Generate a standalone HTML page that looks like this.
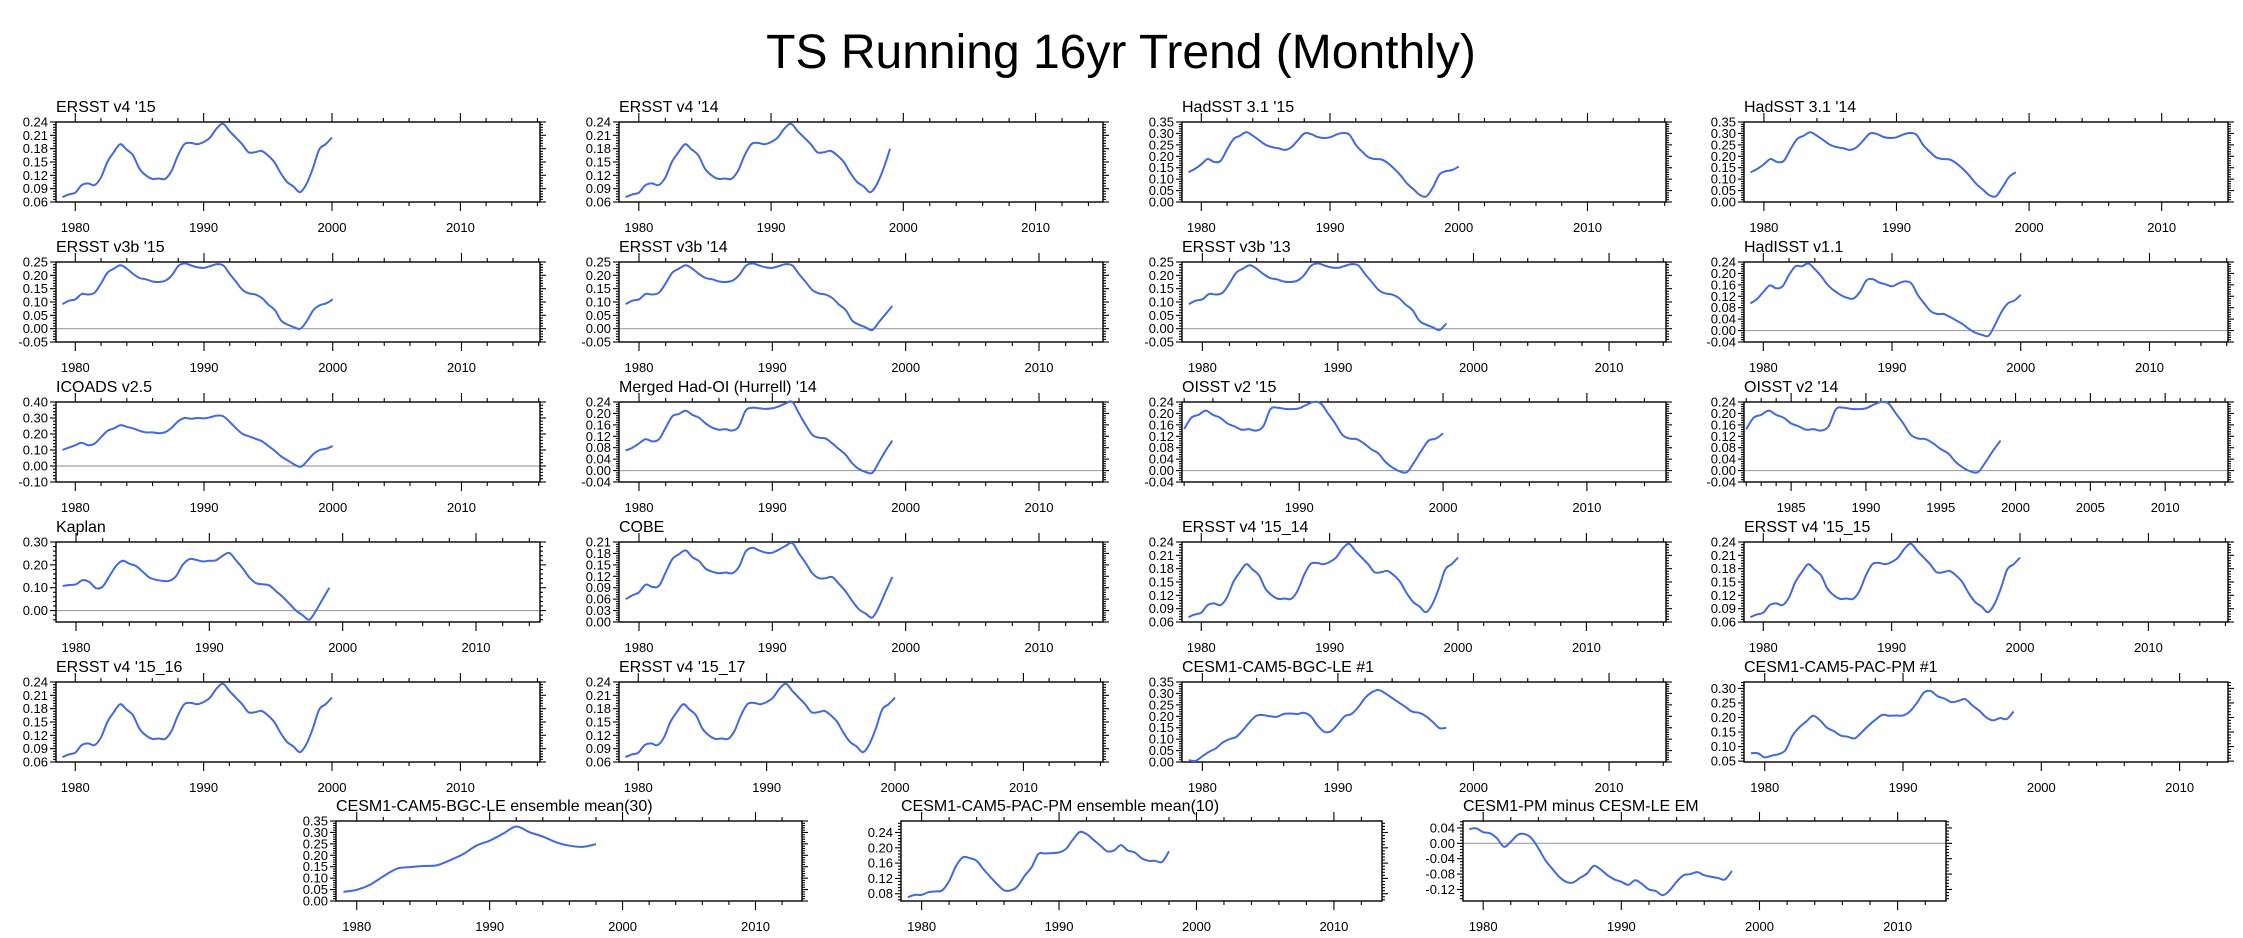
<!DOCTYPE html>
<html><head><meta charset="utf-8">
<style>
html,body{margin:0;padding:0;background:#fff;}
svg{display:block;font-family:"Liberation Sans",Arial,sans-serif;}
</style></head>
<body>
<svg id="fig" width="2243" height="938" viewBox="0 0 2243 938" xmlns="http://www.w3.org/2000/svg">
<text x="1121" y="68" text-anchor="middle" font-size="48" fill="#000">TS Running 16yr Trend (Monthly)</text>
</svg>
<script>
// ---- data (half-year steps unless noted) ----
const ersstV4_15 = [0.071,0.077,0.081,0.098,0.102,0.098,0.115,0.150,0.172,0.190, 0.178,0.165,0.135,0.120,0.112,0.113,0.112,0.130,0.165,0.190, 0.193,0.190,0.195,0.205,0.225,0.236,0.220,0.205,0.190,0.172, 0.172,0.175,0.165,0.150,0.125,0.105,0.095,0.082,0.100,0.135, 0.178,0.190,0.205];
const ersstV4_14 = [0.071,0.077,0.081,0.098,0.102,0.098,0.115,0.150,0.172,0.190, 0.178,0.165,0.135,0.120,0.112,0.113,0.112,0.130,0.165,0.190, 0.193,0.190,0.195,0.205,0.225,0.236,0.220,0.205,0.190,0.172, 0.172,0.175,0.165,0.150,0.125,0.105,0.095,0.082,0.100,0.135, 0.180];
const hadsst15 = [0.130,0.145,0.165,0.188,0.175,0.180,0.230,0.275,0.290,0.305, 0.290,0.270,0.250,0.240,0.235,0.228,0.240,0.270,0.300,0.298, 0.285,0.280,0.283,0.295,0.302,0.295,0.250,0.220,0.195,0.188, 0.186,0.170,0.145,0.115,0.080,0.055,0.030,0.025,0.065,0.120, 0.135,0.140,0.155];
const hadsst14 = [0.130,0.145,0.165,0.188,0.175,0.180,0.230,0.275,0.290,0.305, 0.290,0.270,0.250,0.240,0.235,0.228,0.240,0.270,0.300,0.298, 0.285,0.280,0.283,0.295,0.302,0.295,0.250,0.220,0.195,0.188, 0.186,0.170,0.145,0.115,0.080,0.055,0.030,0.025,0.065,0.110, 0.130];
const ersstV3b15 = [0.092,0.105,0.110,0.130,0.128,0.135,0.170,0.210,0.225,0.238, 0.225,0.205,0.190,0.185,0.177,0.175,0.180,0.200,0.235,0.245, 0.237,0.230,0.228,0.235,0.242,0.237,0.205,0.175,0.145,0.132, 0.128,0.115,0.090,0.070,0.030,0.015,0.005,0.000,0.030,0.070, 0.088,0.095,0.110];
const ersstV3b14 = [0.092,0.105,0.110,0.130,0.128,0.135,0.170,0.210,0.225,0.238, 0.225,0.205,0.190,0.185,0.177,0.175,0.180,0.200,0.235,0.245, 0.237,0.230,0.228,0.235,0.242,0.237,0.205,0.175,0.145,0.132, 0.128,0.115,0.090,0.070,0.030,0.015,0.005,-0.005,0.025,0.055, 0.085];
const ersstV3b13 = [0.092,0.105,0.110,0.130,0.128,0.135,0.170,0.210,0.225,0.238, 0.225,0.205,0.190,0.185,0.177,0.175,0.180,0.200,0.235,0.245, 0.237,0.230,0.228,0.235,0.242,0.237,0.205,0.175,0.145,0.132, 0.128,0.115,0.090,0.070,0.030,0.015,0.005,-0.005,0.020];
const hadisst = [0.095,0.110,0.135,0.158,0.148,0.155,0.195,0.225,0.225,0.235, 0.215,0.190,0.160,0.140,0.125,0.115,0.112,0.135,0.175,0.180, 0.168,0.162,0.155,0.165,0.172,0.165,0.125,0.095,0.068,0.058, 0.058,0.048,0.035,0.022,0.005,-0.008,-0.015,-0.018,0.020,0.065, 0.095,0.105,0.125];
const icoads = [0.100,0.115,0.130,0.145,0.130,0.140,0.180,0.220,0.235,0.255, 0.245,0.235,0.220,0.210,0.210,0.205,0.212,0.240,0.280,0.300, 0.295,0.300,0.298,0.305,0.315,0.310,0.275,0.235,0.200,0.185, 0.170,0.155,0.125,0.095,0.060,0.035,0.010,-0.005,0.030,0.075, 0.100,0.108,0.125];
const mergedHadOI = [0.070,0.080,0.095,0.110,0.102,0.110,0.150,0.190,0.198,0.210, 0.195,0.185,0.165,0.150,0.143,0.145,0.140,0.155,0.210,0.220, 0.218,0.216,0.218,0.225,0.235,0.240,0.200,0.160,0.125,0.115, 0.112,0.095,0.075,0.055,0.025,0.005,-0.005,-0.008,0.030,0.070, 0.105];
const oisst15 = [0.145,0.185,0.195,0.210,0.195,0.185,0.165,0.155,0.143,0.145, 0.140,0.155,0.215,0.220,0.216,0.215,0.218,0.230,0.240,0.235, 0.200,0.165,0.125,0.112,0.110,0.095,0.075,0.060,0.030,0.010, -0.003,-0.005,0.030,0.070,0.105,0.112,0.130];
const oisst14 = [0.145,0.185,0.195,0.210,0.195,0.185,0.165,0.155,0.143,0.145, 0.140,0.155,0.215,0.220,0.216,0.215,0.218,0.230,0.240,0.235, 0.200,0.165,0.125,0.112,0.110,0.095,0.075,0.060,0.030,0.010, -0.003,-0.005,0.030,0.070,0.105];
const kaplan = [0.108,0.112,0.115,0.133,0.125,0.098,0.105,0.150,0.195,0.218, 0.205,0.195,0.170,0.145,0.135,0.130,0.130,0.150,0.200,0.225, 0.222,0.215,0.218,0.220,0.240,0.252,0.220,0.185,0.145,0.120, 0.115,0.110,0.085,0.060,0.030,0.000,-0.020,-0.040,0.000,0.050, 0.100];
const cobe = [0.060,0.070,0.078,0.098,0.092,0.095,0.130,0.165,0.178,0.188, 0.170,0.160,0.140,0.132,0.128,0.130,0.128,0.145,0.185,0.195, 0.188,0.182,0.182,0.190,0.200,0.207,0.180,0.155,0.128,0.115, 0.115,0.118,0.100,0.080,0.055,0.033,0.022,0.012,0.040,0.080, 0.118];
const ersstV4_15_14 = ersstV4_15.slice();
const ersstV4_15_15 = ersstV4_15.slice();
const ersstV4_15_16 = ersstV4_15.slice();
const ersstV4_15_17 = ersstV4_15.slice();
const cesmBgc1 = [0.008,0.005,0.025,0.045,0.060,0.085,0.100,0.110,0.140,0.175, 0.203,0.205,0.200,0.198,0.210,0.212,0.210,0.215,0.200,0.160, 0.132,0.135,0.165,0.200,0.210,0.240,0.280,0.305,0.315,0.300, 0.280,0.260,0.240,0.220,0.215,0.200,0.175,0.148,0.150];
const cesmPac1 = [0.077,0.077,0.063,0.069,0.074,0.088,0.137,0.166,0.186,0.206, 0.190,0.165,0.153,0.138,0.134,0.128,0.149,0.172,0.192,0.209, 0.206,0.207,0.207,0.221,0.250,0.285,0.291,0.273,0.265,0.253, 0.257,0.263,0.242,0.224,0.201,0.190,0.198,0.195,0.221];
// yearly steps
const bgcEnsMean = [0.040,0.049,0.071,0.108,0.141,0.148,0.153,0.156,0.178,0.205,0.242,0.264,0.294,0.326,0.301,0.282,0.257,0.242,0.237,0.249];
const pacEnsMean = [0.071,0.077,0.077,0.084,0.086,0.089,0.113,0.152,0.175,0.173, 0.166,0.144,0.124,0.105,0.089,0.089,0.100,0.127,0.149,0.184, 0.185,0.186,0.188,0.197,0.221,0.241,0.236,0.221,0.206,0.191, 0.193,0.207,0.193,0.188,0.173,0.166,0.166,0.163,0.191];
const pmMinusLe = [0.037,0.039,0.029,0.026,0.013,-0.009,0.004,0.022,0.024,0.013, -0.013,-0.044,-0.066,-0.087,-0.100,-0.102,-0.090,-0.079,-0.059,-0.068, -0.083,-0.094,-0.100,-0.108,-0.096,-0.106,-0.120,-0.124,-0.135,-0.122, -0.100,-0.083,-0.080,-0.075,-0.083,-0.087,-0.090,-0.094,-0.072];

const panelTitles = ["ERSST v4 '15","ERSST v4 '14","HadSST 3.1 '15","HadSST 3.1 '14",
 "ERSST v3b '15","ERSST v3b '14","ERSST v3b '13","HadISST v1.1",
 "ICOADS v2.5","Merged Had-OI (Hurrell) '14","OISST v2 '15","OISST v2 '14",
 "Kaplan","COBE","ERSST v4 '15_14","ERSST v4 '15_15",
 "ERSST v4 '15_16","ERSST v4 '15_17","CESM1-CAM5-BGC-LE #1","CESM1-CAM5-PAC-PM #1",
 "CESM1-CAM5-BGC-LE ensemble mean(30)","CESM1-CAM5-PAC-PM ensemble mean(10)","CESM1-PM minus CESM-LE EM"];
const panelSeries = [ersstV4_15,ersstV4_14,hadsst15,hadsst14, ersstV3b15,ersstV3b14,ersstV3b13,hadisst,
 icoads,mergedHadOI,oisst15,oisst14, kaplan,cobe,ersstV4_15_14,ersstV4_15_15,
 ersstV4_15_16,ersstV4_15_17,cesmBgc1,cesmPac1, bgcEnsMean,pacEnsMean,pmMinusLe];
const seriesStart = [1979,1979,1979,1979, 1979,1979,1979,1979, 1979,1979,1982,1982, 1979,1979,1979,1979, 1979,1979,1979,1979, 1979,1979,1979];
const seriesStep = [0.5,0.5,0.5,0.5, 0.5,0.5,0.5,0.5, 0.5,0.5,0.5,0.5, 0.5,0.5,0.5,0.5, 0.5,0.5,0.5,0.5, 1,0.5,0.5];
const yMin = [0.06,0.06,0,0, -0.05,-0.05,-0.05,-0.04, -0.10,-0.04,-0.04,-0.04, -0.05,0,0.06,0.06, 0.06,0.06,0,0.047, 0,0.061,-0.150];
const yMax = [0.24,0.24,0.35,0.35, 0.25,0.25,0.25,0.24, 0.40,0.24,0.24,0.24, 0.30,0.21,0.24,0.24, 0.24,0.24,0.35,0.322, 0.35,0.27,0.058];
const yTickStep = [0.03,0.03,0.05,0.05, 0.05,0.05,0.05,0.04, 0.10,0.04,0.04,0.04, 0.10,0.03,0.03,0.03, 0.03,0.03,0.05,0.05, 0.05,0.04,0.04];
const yTickFirst = [0.06,0.06,0,0, -0.05,-0.05,-0.05,-0.04, -0.10,-0.04,-0.04,-0.04, 0,0,0.06,0.06, 0.06,0.06,0,0.05, 0,0.08,-0.12];
const xMin = [1978.5,1978.5,1978.5,1978.5, 1978.5,1978.5,1978.5,1978.5, 1978.5,1978.5,1981.85,1981.85, 1978.5,1978.5,1978.5,1978.5, 1978.5,1978.5,1978.5,1978.5, 1978.44,1978.5,1978.54];
const xMax = [2016.2,2015.1,2016.1,2015.0, 2016.1,2014.8,2014.2,2016.1, 2016.1,2014.8,2015.5,2014.2, 2014.8,2014.8,2016.2,2016.2, 2016.2,2016.2,2014.2,2013.5, 2013.5,2013.5,2013.5];
const xMajorStep = [10,10,10,10, 10,10,10,10, 10,10,10,5, 10,10,10,10, 10,10,10,10, 10,10,10];

// ---- layout ----
const colLeft = [56,619,1182,1744];
const rowTop = [122,262,402,542,682];
const PW = 484, PH = 80;
const bottomLeft = [336,901,1463], bottomWidth = [466,481,483], bottomTop = 821;

const NS = "http://www.w3.org/2000/svg";
const svg = document.getElementById('fig');
function mk(tag, attrs, parent){
  const e = document.createElementNS(NS, tag);
  for (const k in attrs) e.setAttribute(k, attrs[k]);
  (parent||svg).appendChild(e);
  return e;
}
function smoothPath(pts){
  let d = 'M'+pts[0][0].toFixed(2)+','+pts[0][1].toFixed(2);
  for (let i=0;i<pts.length-1;i++){
    const p0=pts[Math.max(0,i-1)], p1=pts[i], p2=pts[i+1], p3=pts[Math.min(pts.length-1,i+2)];
    const c1x=p1[0]+(p2[0]-p0[0])/6, c1y=p1[1]+(p2[1]-p0[1])/6;
    const c2x=p2[0]-(p3[0]-p1[0])/6, c2y=p2[1]-(p3[1]-p1[1])/6;
    d += ' C'+c1x.toFixed(2)+','+c1y.toFixed(2)+' '+c2x.toFixed(2)+','+c2y.toFixed(2)+' '+p2[0].toFixed(2)+','+p2[1].toFixed(2);
  }
  return d;
}

for (let i=0;i<panelTitles.length;i++){
  let L, T, W;
  if (i<20){ L = colLeft[i%4]; T = rowTop[Math.floor(i/4)]; W = PW; }
  else { L = bottomLeft[i-20]; T = bottomTop; W = bottomWidth[i-20]; }
  const R = L+W, B = T+PH;
  const x0=xMin[i], x1=xMax[i], y0=yMin[i], y1=yMax[i];
  const xs = v => L + (v-x0)/(x1-x0)*W;
  const ys = v => B - (v-y0)/(y1-y0)*PH;
  const g = mk('g', {});
  
  

  const title = mk('text', {x:L, y:T-10, 'font-size':16, fill:'#000'}, g);
  title.textContent = panelTitles[i];
  
  

  if (y0 < 0 && y1 > 0){
    const z = mk('line', {x1:L, x2:R, y1:ys(0), y2:ys(0), stroke:'#a0a0a0', 'stroke-width':1.2}, g);
    
    
  }

  const ticks = mk('g', {stroke:'#000', 'stroke-width':1.1}, g);
  
  
  const minorStep = xMajorStep[i]===5 ? 1 : 2;
  for (let yr=Math.ceil(x0); yr<=x1; yr++){
    const isMajor = yr % xMajorStep[i] === 0;
    if (!isMajor && yr % minorStep !== 0) continue;
    const px = xs(yr), len = isMajor ? 9 : 4;
    mk('line', {x1:px, x2:px, y1:B, y2:B+len}, ticks);
    mk('line', {x1:px, x2:px, y1:T, y2:T-len}, ticks);
    if (isMajor){
      const t = mk('text', {x:px, y:B+30, 'font-size':13, 'text-anchor':'middle', fill:'#000', stroke:'none'}, g);
      t.textContent = yr;
      
      
    }
  }
  const st = yTickStep[i], sub = st/5;
  for (let k=-20; k<=60; k++){
    const v = yTickFirst[i] + k*sub;
    if (v < y0-1e-9 || v > y1+1e-9) continue;
    const py = ys(v), isMajor = (k%5===0);
    const len = isMajor ? 6 : 3;
    mk('line', {x1:L, x2:L-len, y1:py, y2:py}, ticks);
    mk('line', {x1:R, x2:R+len, y1:py, y2:py}, ticks);
    if (isMajor){
      const t = mk('text', {x:L-8, y:py+4.5, 'font-size':13, 'text-anchor':'end', fill:'#000', stroke:'none'}, g);
      t.textContent = v.toFixed(2).replace('-0.00','0.00');
      
      
    }
  }
  const fr = mk('rect', {x:L, y:T, width:W, height:PH, fill:'none', stroke:'#000', 'stroke-width':1.4}, g);
  
  

  const vals = panelSeries[i];
  const pts = vals.map((v,j) => [xs(seriesStart[i] + j*seriesStep[i]), ys(v)]);
  const line = mk('path', {d:smoothPath(pts), fill:'none', stroke:'#4169e1', 'stroke-width':2, 'stroke-linejoin':'round'}, g);
  
  
}
</script>
</body></html>
